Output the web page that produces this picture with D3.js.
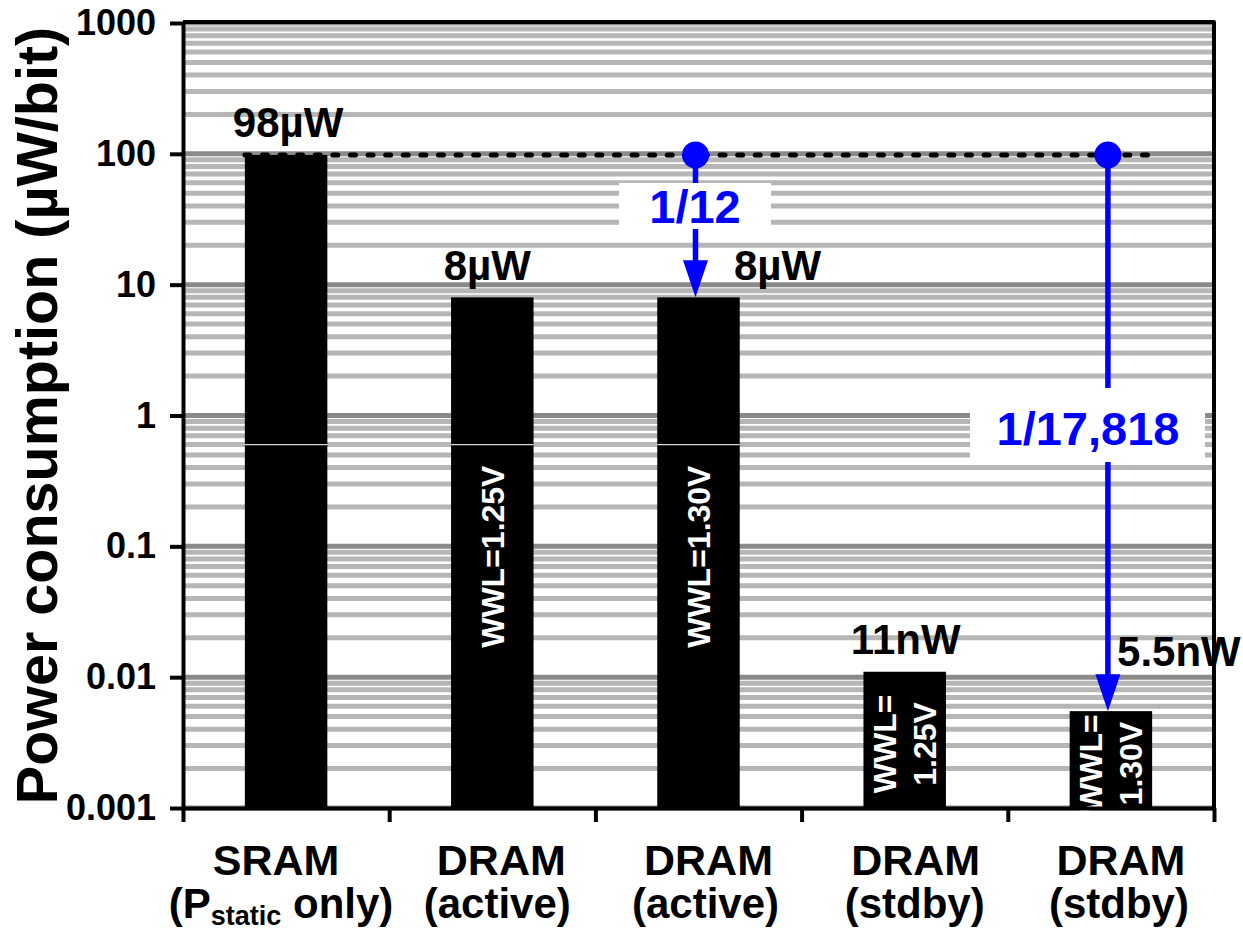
<!DOCTYPE html>
<html>
<head>
<meta charset="utf-8">
<script src="https://cdn.jsdelivr.net/npm/d3@7"></script>
<style>
  html, body { margin: 0; padding: 0; background: #fff; }
  svg { display: block; font-family: "Liberation Sans", Arial, sans-serif; font-weight: bold; }
</style>
</head>
<body>
<div id="plot1"></div>
<script>
// data (power per bit, in uW)
const categories = ["SRAM", "DRAM", "DRAM", "DRAM", "DRAM"];
const subLabels = ["(P|static| only)", "(active)", "(active)", "(stdby)", "(stdby)"];
const power = [98, 8, 8, 0.011, 0.0055];
const barLabels = ["98µW", "8µW", "8µW", "11nW", "5.5nW"];
const insideLabels = [[], ["WWL=1.25V"], ["WWL=1.30V"], ["WWL=", "1.25V"], ["WWL=", "1.30V"]];
const yTicks = [0.001, 0.01, 0.1, 1, 10, 100, 1000];
const yTickLabels = ["0.001", "0.01", "0.1", "1", "10", "100", "1000"];
// ratio arrows: from SRAM level down to bar i
const ratioFrom = 0;
const ratioTo = [2, 4];
const ratioLabels = ["1/12", "1/17,818"];

const blue = "#0000ff";
const width = 1243;
const height = 935;
const marginTop = 23;
const marginRight = 29;
const marginBottom = 127;
const marginLeft = 183;

const x = d3.scaleBand()
  .domain(d3.range(categories.length))
  .range([marginLeft, width - marginRight])
  .paddingInner(0.6)
  .paddingOuter(0.3);

const xEdge = d3.scaleLinear()
  .domain([0, categories.length])
  .range([marginLeft, width - marginRight]);

const y = d3.scaleLog()
  .domain([0.001, 1000])
  .range([height - marginBottom, marginTop]);

const svg = d3.create("svg")
  .attr("width", width)
  .attr("height", height)
  .attr("viewBox", [0, 0, width, height]);

// grid: minor then major
const allTicks = y.ticks();
const isMajor = (v) => Math.abs(Math.log10(v) - Math.round(Math.log10(v))) < 1e-9;
svg.append("g")
  .selectAll("line")
  .data(allTicks.filter(v => !isMajor(v)))
  .join("line")
    .attr("x1", marginLeft).attr("x2", width - marginRight)
    .attr("y1", d => y(d)).attr("y2", d => y(d))
    .attr("stroke", "#b6b6b6")
    .attr("stroke-width", 5);
svg.append("g")
  .selectAll("line")
  .data(allTicks.filter(isMajor))
  .join("line")
    .attr("x1", marginLeft).attr("x2", width - marginRight)
    .attr("y1", d => y(d)).attr("y2", d => y(d))
    .attr("stroke", "#8a8a8a")
    .attr("stroke-width", 5);

// bars
svg.append("g")
  .selectAll("rect")
  .data(power)
  .join("rect")
    .attr("x", (d, i) => x(i))
    .attr("y", d => y(d))
    .attr("width", x.bandwidth())
    .attr("height", d => y(0.001) - y(d))
    .attr("fill", "#000");

// thin seam that runs through the tall bars
const seam = 0.6;
svg.append("g")
  .selectAll("line")
  .data(power.map((d, i) => [d, i]).filter(([d]) => d > seam))
  .join("line")
    .attr("x1", ([, i]) => x(i)).attr("x2", ([, i]) => x(i) + x.bandwidth())
    .attr("y1", y(seam)).attr("y2", y(seam))
    .attr("stroke", "#d8d8d8")
    .attr("stroke-width", 1.2);

// dotted reference line at SRAM level
svg.append("line")
  .attr("x1", x(0)).attr("x2", x(categories.length - 1) + x.bandwidth())
  .attr("y1", y(power[ratioFrom])).attr("y2", y(power[ratioFrom]))
  .attr("stroke", "#000")
  .attr("stroke-width", 5)
  .attr("stroke-linecap", "round")
  .attr("stroke-dasharray", "5,12.6");

// value labels above bars
const labelDx = [2, -5, 79, 1, 68];
const labelDy = [-18, -17, -17, -18, -45];
svg.append("g")
  .selectAll("text")
  .data(barLabels)
  .join("text")
    .attr("x", (d, i) => x(i) + x.bandwidth() / 2 + labelDx[i])
    .attr("y", (d, i) => y(power[i]) + labelDy[i])
    .attr("text-anchor", "middle")
    .attr("font-size", 42)
    .attr("fill", "#000")
    .text(d => d);

// rotated labels inside bars
insideLabels.forEach((lines, i) => {
  const cx = x(i) + x.bandwidth() / 2;
  const cy = (y(power[i]) + y(0.001)) / 2 + 4;
  lines.forEach((t, k) => {
    const off = (k - (lines.length - 1) / 2) * 40;
    svg.append("text")
      .attr("transform", `translate(${cx + off},${cy}) rotate(-90)`)
      .attr("text-anchor", "middle")
      .attr("dy", "0.36em")
      .attr("font-size", 32)
      .attr("fill", "#fff")
      .text(t);
  });
});

// ratio arrows
const boxes = [
  { left: 619, right: 771, top: 183, bottom: 229, tx: 695, base: 223 },
  { left: 970, right: 1205, top: 388, bottom: 462, tx: 1088, base: 445 }
];
ratioTo.forEach((bi, k) => {
  const ax = x(bi) + x.bandwidth() / 2 - 3;
  const y0 = y(power[ratioFrom]);
  const y1 = y(power[bi]);
  const g = svg.append("g");
  g.append("line")
    .attr("x1", ax).attr("x2", ax)
    .attr("y1", y0).attr("y2", y1 - 30)
    .attr("stroke", blue).attr("stroke-width", 5.5);
  g.append("path")
    .attr("d", `M${ax - 12.5},${y1 - 37} L${ax + 12.5},${y1 - 37} L${ax},${y1} Z`)
    .attr("fill", blue);
  g.append("circle")
    .attr("cx", ax).attr("cy", y0).attr("r", 13.5)
    .attr("fill", blue);
  const b = boxes[k];
  g.append("rect")
    .attr("x", b.left).attr("y", b.top)
    .attr("width", b.right - b.left).attr("height", b.bottom - b.top)
    .attr("fill", "#fff");
  g.append("text")
    .attr("x", b.tx).attr("y", b.base)
    .attr("text-anchor", "middle")
    .attr("font-size", 47)
    .attr("fill", blue)
    .text(ratioLabels[k]);
});

// frame (top and right)
svg.append("path")
  .attr("d", `M${marginLeft},${marginTop - 1} H${width - marginRight} V${height - marginBottom}`)
  .attr("fill", "none")
  .attr("stroke", "#000")
  .attr("stroke-width", 4)
  .attr("stroke-linejoin", "round");

// axes
const yAxis = svg.append("g")
  .attr("transform", `translate(${marginLeft},0)`)
  .call(d3.axisLeft(y)
    .tickValues(yTicks)
    .tickFormat((d, i) => yTickLabels[i])
    .tickSize(13)
    .tickSizeOuter(0)
    .tickPadding(14));
yAxis.select(".domain").attr("stroke-width", 4);
yAxis.selectAll(".tick line").attr("stroke-width", 4);
yAxis.selectAll(".tick text")
  .attr("font-size", 36)
  .attr("font-family", "'Liberation Sans', Arial, sans-serif")
  .attr("font-weight", "bold")
  .attr("fill", "#000");

const xAxis = svg.append("g")
  .attr("transform", `translate(0,${height - marginBottom})`)
  .call(d3.axisBottom(xEdge)
    .tickValues(d3.range(categories.length + 1))
    .tickFormat("")
    .tickSize(14)
    .tickSizeOuter(0));
xAxis.select(".domain").attr("stroke-width", 4);
xAxis.selectAll(".tick line").attr("stroke-width", 4);

// category labels (two lines, second may contain a subscript)
const catDx1 = [-10, 9, 10, 11, 10];
const catDx2 = [-5, 5, 7, 10, 8];
const catG = svg.append("g");
categories.forEach((c, i) => {
  const cx = x(i) + x.bandwidth() / 2;
  catG.append("text")
    .attr("x", cx + catDx1[i]).attr("y", 875)
    .attr("text-anchor", "middle")
    .attr("font-size", 43)
    .text(c);
  const t = catG.append("text")
    .attr("x", cx + catDx2[i]).attr("y", 918)
    .attr("text-anchor", "middle")
    .attr("font-size", 42);
  subLabels[i].split("|").forEach((part, k) => {
    const ts = t.append("tspan").text(part);
    if (k === 1) ts.attr("font-size", 27).attr("dy", 7);
    if (k === 2) ts.attr("dy", -7);
  });
});

// y title
svg.append("text")
  .attr("transform", `translate(57,${(marginTop + height - marginBottom) / 2}) rotate(-90)`)
  .attr("text-anchor", "middle")
  .attr("font-size", 57.5)
  .text("Power consumption (µW/bit)");

document.querySelector("#plot1").append(svg.node());
</script>
</body>
</html>
